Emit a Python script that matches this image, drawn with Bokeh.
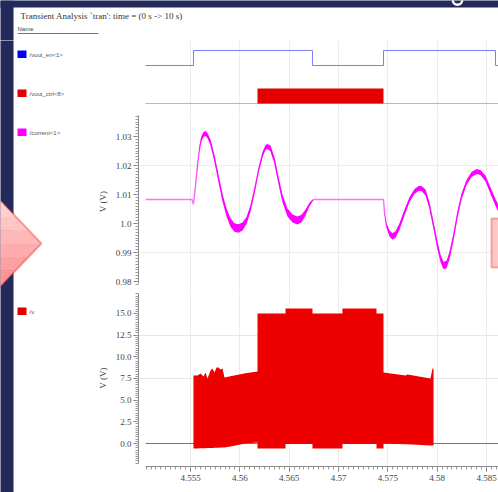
from bokeh.plotting import figure
from bokeh.layouts import column, row
from bokeh.models import (Range1d, LinearAxis, FixedTicker, CustomJSTickFormatter,
                          BoxAnnotation, PolyAnnotation, Label, Grid)
from bokeh.embed import file_html
from bokeh.resources import INLINE

# ---------------- data ----------------
title_text = "Transient Analysis `tran': time = (0 s -> 10 s)"
signal_names = ["/vout_en<1>", "/vout_ctrl<8>", "/current<1>", "/v"]

x_ticks = [4.555, 4.56, 4.565, 4.57, 4.575, 4.58, 4.585]
cur_ticks = [0.98, 0.99, 1.0, 1.01, 1.02, 1.03]
v_ticks = [0.0, 2.5, 5.0, 7.5, 10.0, 12.5, 15.0]

# /vout_en<1>  (digital, step after)
en_t = [4.55044, 4.55530, 4.56736, 4.57456, 4.58591, 4.58622]
en_v = [0, 1, 0, 1, 0, 0]

# /vout_ctrl<8> bus activity
ctrl_t = [4.55044, 4.56179, 4.56179, 4.57456, 4.57456, 4.58622]
ctrl_v = [0, 0, 1, 1, 0, 0]
ctrl_base = [0, 0, 0, 0, 0, 0]

# /current<1>  (centre value and ripple half-width)
cur_t = [4.55044, 4.55515, 4.55530, 4.55551, 4.55571, 4.55591, 4.55611, 4.55632,
         4.55652, 4.55672, 4.55703, 4.55743, 4.55784, 4.55824, 4.55865, 4.55905,
         4.55946, 4.55986, 4.56027, 4.56068, 4.56108, 4.56149, 4.56189, 4.56230,
         4.56260, 4.56280, 4.56311, 4.56351, 4.56392, 4.56432, 4.56483, 4.56534,
         4.56584, 4.56625, 4.56666, 4.56706, 4.56737, 4.56747, 4.57456, 4.57466,
         4.57486, 4.57517, 4.57547, 4.57578, 4.57618, 4.57669, 4.57720, 4.57770,
         4.57811, 4.57841, 4.57882, 4.57922, 4.57963, 4.58003, 4.58034, 4.58064,
         4.58095, 4.58125, 4.58166, 4.58206, 4.58247, 4.58297, 4.58348, 4.58399,
         4.58439, 4.58490, 4.58540, 4.58591, 4.58642]
cur_v = [1.00828, 1.00828, 1.00655, 1.01310, 1.02000, 1.02586, 1.02931, 1.03069,
         1.03103, 1.03034, 1.02793, 1.02241, 1.01552, 1.00897, 1.00379, 1.00034,
         0.99862, 0.99828, 0.99897, 1.00103, 1.00517, 1.01138, 1.01828, 1.02379,
         1.02621, 1.02655, 1.02586, 1.02172, 1.01483, 1.00862, 1.00379, 1.00172,
         1.00103, 1.00172, 1.00379, 1.00655, 1.00793, 1.00828, 1.00828, 1.00379,
         0.99931, 0.99655, 0.99552, 0.99621, 0.99897, 1.00379, 1.00828, 1.01103,
         1.01207, 1.01207, 1.01069, 1.00621, 0.99931, 0.99241, 0.98793, 0.98552,
         0.98586, 0.98897, 0.99552, 1.00310, 1.00931, 1.01414, 1.01690, 1.01793,
         1.01759, 1.01552, 1.01138, 1.00724, 1.00379]
cur_r = [0, 0, 0, 0.0004, 0.0006, 0.0008, 0.0009, 0.0009,
         0.0009, 0.0009, 0.0010, 0.0011, 0.0012, 0.0013, 0.0014, 0.0015,
         0.0015, 0.0015, 0.0014, 0.0012, 0.0011, 0.0010, 0.0009, 0.0009,
         0.0009, 0.0009, 0.0010, 0.0011, 0.0012, 0.0013, 0.0014, 0.0014,
         0.0014, 0.0013, 0.0010, 0.0006, 0.0003, 0, 0, 0.0004,
         0.0008, 0.0010, 0.0011, 0.0011, 0.0011, 0.0010, 0.0009, 0.0009,
         0.0009, 0.0009, 0.0010, 0.0011, 0.0012, 0.0013, 0.0013, 0.0013,
         0.0013, 0.0013, 0.0012, 0.0011, 0.0010, 0.0009, 0.0009, 0.0009,
         0.0009, 0.0010, 0.0011, 0.0012, 0.0012]

# /v  (switching node: upper / lower envelope)
v_t = [4.55044, 4.55530, 4.55530, 4.55571, 4.55601, 4.55632, 4.55652, 4.55672,
       4.55703, 4.55723, 4.55743, 4.55764, 4.55784, 4.55804, 4.55824, 4.55845,
       4.55905, 4.56057, 4.56179, 4.56179, 4.56463, 4.56463, 4.56736, 4.56736,
       4.57040, 4.57040, 4.57385, 4.57385, 4.57456, 4.57456, 4.57679, 4.57699,
       4.57932, 4.57953, 4.57963, 4.57963, 4.58622]
v_hi = [0, 0, 7.85, 7.85, 8.08, 7.73, 8.19, 7.50,
        8.42, 8.65, 8.19, 8.77, 8.77, 8.54, 8.65, 7.62,
        7.75, 8.10, 8.31, 15.0, 15.0, 15.58, 15.58, 15.0,
        15.0, 15.58, 15.58, 15.0, 15.0, 8.19, 7.85, 7.96,
        7.50, 8.65, 8.65, 0, 0]
v_lo = [0, 0, -0.58, -0.57, -0.56, -0.55, -0.54, -0.53,
        -0.52, -0.51, -0.50, -0.49, -0.48, -0.47, -0.46, -0.45,
        -0.35, 0.0, 0.12, -0.58, -0.58, -0.05, -0.05, -0.58,
        -0.58, -0.05, -0.05, -0.58, -0.58, 0.0, -0.10, -0.10,
        -0.23, -0.23, -0.23, 0, 0]
v_base_t = [4.55044, 4.58622]
v_base = [0.0, 0.0]

# ---------------- layout geometry (window pixels) ----------------
W, H = 498, 492
HEAD = 40              # header strip height
LW = 93                # left name column width
FL = 138               # left edge of plotting frames (window x)
HA, HB, HC = 113 - HEAD, 176, 203
NAVY = "#222a5c"
SERIF = "Liberation Serif"
SANS = "Liberation Sans"

X0 = 4.555 + (FL - 190) / 9867.0
X1 = 4.555 + (W - 190) / 9867.0
xr = Range1d(X0, X1)


def yA(py):   # ctrl track units (window y)
    return (103 - py) / 15.0


def yE(py):   # en track units
    return (65 - py) / 15.0


def yB(py):   # window y -> volts (current panel)
    return 1.0 + (223 - py) / 2900.0


def yC(py):   # window y -> volts (/v panel)
    return (443 - py) / 8.667


def plain_fig(w, h, xrange, yrange):
    p = figure(width=w, height=h, x_range=xrange, y_range=yrange,
               output_backend="svg", toolbar_location=None,
               x_axis_location=None, y_axis_location=None, min_border=0,
               outline_line_color=None, background_fill_color="white",
               border_fill_color="white")
    p.center = []          # drop the default grids
    return p


def wave_fig(h, yrange, bottom=0):
    p = figure(width=W - LW, height=h, x_range=xr, y_range=yrange,
               output_backend="svg", toolbar_location=None,
               x_axis_location=None, y_axis_location=None,
               min_border=0, min_border_left=FL - LW, min_border_right=0,
               min_border_top=0, min_border_bottom=bottom,
               outline_line_color=None, background_fill_color="white",
               border_fill_color="white")
    p.center = []          # drop the default grids
    p.add_layout(Grid(dimension=0, ticker=FixedTicker(ticks=x_ticks),
                      grid_line_color="#ececec", grid_line_width=1))
    return p


def style_axis(ax):
    ax.axis_line_color = "#8a8a8a"
    ax.major_tick_line_color = "#777777"
    ax.minor_tick_line_color = "#999999"
    ax.major_tick_in = 0
    ax.minor_tick_in = 0
    ax.major_tick_out = 5
    ax.minor_tick_out = 3
    ax.major_label_standoff = 2
    ax.major_label_text_font = SERIF
    ax.major_label_text_font_size = "9px"
    ax.major_label_text_color = "#444444"
    ax.axis_label_text_font = SERIF
    ax.axis_label_text_font_size = "9px"
    ax.axis_label_text_font_style = "normal"
    ax.axis_label_text_color = "#444444"


# ---------------- header (title strip), window pixel coordinates ----------------
head = plain_fig(W, HEAD, Range1d(0, W), Range1d(HEAD, 0))
head.add_layout(BoxAnnotation(left=-5, right=W + 5, top=-5, bottom=7, level="underlay",
                              fill_color=NAVY, fill_alpha=1, line_color=None))
head.add_layout(BoxAnnotation(left=-5, right=13, top=0, bottom=HEAD + 5, level="underlay",
                              fill_color=NAVY, fill_alpha=1, line_color=None))
# tail of a slide-title letter peeking in at the top edge
head.annulus(x=[457], y=[-0.5], inner_radius=3.5, outer_radius=6,
             fill_color="white", line_color=None)
head.add_layout(Label(x=20, y=15.5, text=title_text, text_font=SERIF,
                      text_font_size="9px", text_color="#333333", text_baseline="middle"))
head.add_layout(Label(x=17, y=28, text="Name", text_font=SANS,
                      text_font_size="6px", text_color="#444444", text_baseline="middle"))
head.add_layout(BoxAnnotation(left=17, right=98, top=32.5, bottom=33.5,
                              fill_color="#777777", fill_alpha=1, line_color=None))

# ---------------- left name column, window pixel coordinates ----------------
side = plain_fig(LW, H - HEAD, Range1d(0, LW), Range1d(H, HEAD))
side.add_layout(BoxAnnotation(left=-5, right=13, top=HEAD - 5, bottom=H + 5,
                              fill_color=NAVY, fill_alpha=1, line_color=None))

# pink arrow with a vertical light-to-deep gradient (built from strips)
AT, AX, AY, AB, AL = 189.5, 41.0, 243.0, 296.5, -10.0


def arrow_x(yy):
    if yy <= AY:
        return AL + (yy - AT) * (AX - AL) / (AY - AT)
    return AL + (AB - yy) * (AX - AL) / (AB - AY)


grad = ["#ffdcdc", "#ffd0d0", "#ffc4c4", "#ffb8b8", "#ffacac", "#ffa0a0", "#ff9696", "#ff8e8e"]
n = len(grad)
for i, c in enumerate(grad):
    ya = AT + (AB - AT) * i / n
    yb = AT + (AB - AT) * (i + 1) / n + 0.6
    xs = [AL, arrow_x(ya)]
    ys = [ya, ya]
    if ya < AY < yb:
        xs.append(AX)
        ys.append(AY)
    xs += [arrow_x(min(yb, AB)), AL]
    ys += [min(yb, AB), min(yb, AB)]
    side.add_layout(PolyAnnotation(xs=xs, ys=ys, fill_color=c, fill_alpha=1, line_color=None))
side.add_layout(PolyAnnotation(xs=[AL, AX, AL], ys=[AT, AY, AB], fill_alpha=0,
                               line_color="#dd0000", line_width=2))

for ypx, color, name in [(54, "#0000ee", signal_names[0]), (93, "#e00000", signal_names[1]),
                         (132, "#ff00ff", signal_names[2]), (311, "#e00000", signal_names[3])]:
    side.add_layout(BoxAnnotation(left=17, right=26, top=ypx - 4, bottom=ypx + 3.5,
                                  fill_color=color, fill_alpha=1, line_color=None))
    side.add_layout(Label(x=29, y=ypx, text=name, text_font=SANS, text_font_size="6px",
                          text_color="#555555", text_baseline="middle"))

# ---------------- panel A: digital signals ----------------
pA = wave_fig(HA, Range1d(yA(113), yA(HEAD)))
pA.extra_y_ranges = {"en": Range1d(yE(113), yE(HEAD))}
pA.step(en_t, en_v, mode="after", line_color="#7d7df2", line_width=1, y_range_name="en")
pA.line(ctrl_t, ctrl_base, line_color="#ff9a9a", line_width=1.2)
pA.varea(x=ctrl_t, y1=ctrl_base, y2=ctrl_v, fill_color="#e50000")

# ---------------- panel B: /current<1> ----------------
pB = wave_fig(HB, Range1d(yB(289), yB(113)))
pB.add_layout(Grid(dimension=1, ticker=FixedTicker(ticks=[0.99, 1.02]),
                   grid_line_color="#ececec"))
pB.line(cur_t, cur_v, line_color="#ff70ff", line_width=1.4)
pB.varea(x=cur_t, y1=[v - r for v, r in zip(cur_v, cur_r)],
         y2=[v + r for v, r in zip(cur_v, cur_r)], fill_color="#ff00ff")
axB = LinearAxis(ticker=FixedTicker(ticks=cur_ticks,
                                    minor_ticks=[0.979 + 0.001 * i for i in range(59)]),
                 formatter=CustomJSTickFormatter(
                     code="return Math.abs(tick-1)<1e-9 ? '1.0' : tick.toFixed(2);"),
                 bounds=(yB(283), yB(115)), axis_label="V (V)", axis_label_standoff=5)
style_axis(axB)
pB.add_layout(axB, "left")
pB.add_layout(BoxAnnotation(left=X0 + (491 - FL) / 9867.0, right=X1 + 0.001,
                            top=yB(218), bottom=yB(267),
                            fill_color="#ffc8c8", fill_alpha=1, line_color="#dd0000", line_width=2))

# ---------------- panel C: /v ----------------
pC = wave_fig(HC, Range1d(yC(466), yC(289)), bottom=H - 466)
pC.add_layout(Grid(dimension=1, ticker=FixedTicker(ticks=[7.5, 12.5]),
                   grid_line_color="#e6e6e6"))
pC.line(v_base_t, v_base, line_color="#e04848", line_width=1)
pC.varea(x=v_t, y1=v_lo, y2=v_hi, fill_color="#ee0000")
axC = LinearAxis(ticker=FixedTicker(ticks=v_ticks,
                                    minor_ticks=[-2.25 + 0.25 * i for i in range(79)]),
                 formatter=CustomJSTickFormatter(code="return tick.toFixed(1);"),
                 bounds=(yC(463), yC(293)), axis_label="V (V)", axis_label_standoff=5)
style_axis(axC)
pC.add_layout(axC, "left")
axX = LinearAxis(ticker=FixedTicker(ticks=x_ticks,
                                    minor_ticks=[4.5505 + 0.0005 * i for i in range(72)]),
                 formatter=CustomJSTickFormatter(
                     code="return String(Math.round(tick*1000)/1000);"),
                 bounds=(4.55044, 4.5865))
style_axis(axX)
axX.major_label_standoff = 3
pC.add_layout(axX, "below")

p = column(head, row(side, column(pA, pB, pC, spacing=0), spacing=0), spacing=0)
open("out.html", "w").write(file_html(p, INLINE))
